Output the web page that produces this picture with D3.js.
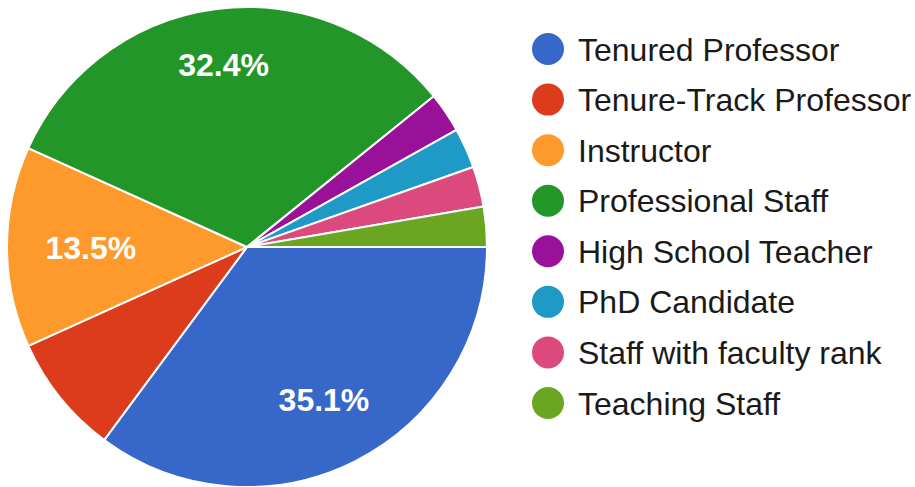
<!DOCTYPE html>
<html>
<head>
<meta charset="utf-8">
<script src="https://cdn.jsdelivr.net/npm/d3@7"></script>
<style>
  html, body { margin: 0; padding: 0; background: #fff; }
  svg { display: block; font-family: Arial, "Liberation Sans", Helvetica, sans-serif; }
</style>
</head>
<body>
<svg id="chart" width="915" height="487"></svg>
<script>
const categories = ["Tenured Professor", "Tenure-Track Professor", "Instructor", "Professional Staff",
  "High School Teacher", "PhD Candidate", "Staff with faculty rank", "Teaching Staff"];
const counts = [13, 3, 5, 12, 1, 1, 1, 1];
const colors = ["#3767c9", "#dc3c1c", "#fe9a2b", "#23962a", "#991199", "#1f9ac6", "#dc4a7d", "#6aa622"];

const svg = d3.select("#chart");
const cx = 247, cy = 247, R = 240;
const total = d3.sum(counts);

const data = categories.map((c, i) => ({ name: c, value: counts[i], color: colors[i] }));

// Start at 3 o'clock, clockwise
const pie = d3.pie().value(d => d.value).sort(null)
  .startAngle(Math.PI / 2).endAngle(Math.PI / 2 + 2 * Math.PI);
const arc = d3.arc().innerRadius(0).outerRadius(R);

const g = svg.append("g").attr("transform", `translate(${cx},${cy})`);
const arcs = pie(data);

g.selectAll("path").data(arcs).join("path")
  .attr("d", arc)
  .attr("fill", d => d.data.color)
  .attr("stroke", "#fff")
  .attr("stroke-width", 2)
  .attr("stroke-linejoin", "round");

const fmt = d3.format(".1%");
const labels = g.selectAll("text.pct").data(arcs.filter(d => d.data.value / total >= 0.1)).join("text")
  .attr("class", "pct")
  .attr("text-anchor", "middle")
  .attr("dy", "0.36em")
  .attr("fill", "#fff")
  .attr("font-size", 32)
  .attr("font-weight", "bold")
  .text(d => fmt(d.data.value / total));

// place label so the outer edge of its box sits at 0.84R along the mid-angle
labels.each(function(d) {
  const w = this.getComputedTextLength() / 2;
  const h = 11.5;
  const a = (d.startAngle + d.endAngle) / 2; // d3 angle: 0 at 12 o'clock, clockwise
  const ux = Math.sin(a), uy = -Math.cos(a);
  const e = Math.abs(ux) * w + Math.abs(uy) * h;
  const dist = 0.84 * R - e;
  d3.select(this).attr("transform", `translate(${ux * dist},${uy * dist})`);
});

// Legend
const legend = svg.append("g").attr("transform", "translate(548,49)");
const ly = d3.scalePoint().domain(categories).range([0, 354]);
const items = legend.selectAll("g").data(data).join("g")
  .attr("transform", d => `translate(0,${ly(d.name)})`);
items.append("circle").attr("r", 16).attr("fill", d => d.color);
items.append("text")
  .attr("x", 30)
  .attr("dy", "0.36em")
  .attr("font-size", 32)
  .attr("fill", "#1a1a1a")
  .text(d => d.name);
</script>
</body>
</html>
